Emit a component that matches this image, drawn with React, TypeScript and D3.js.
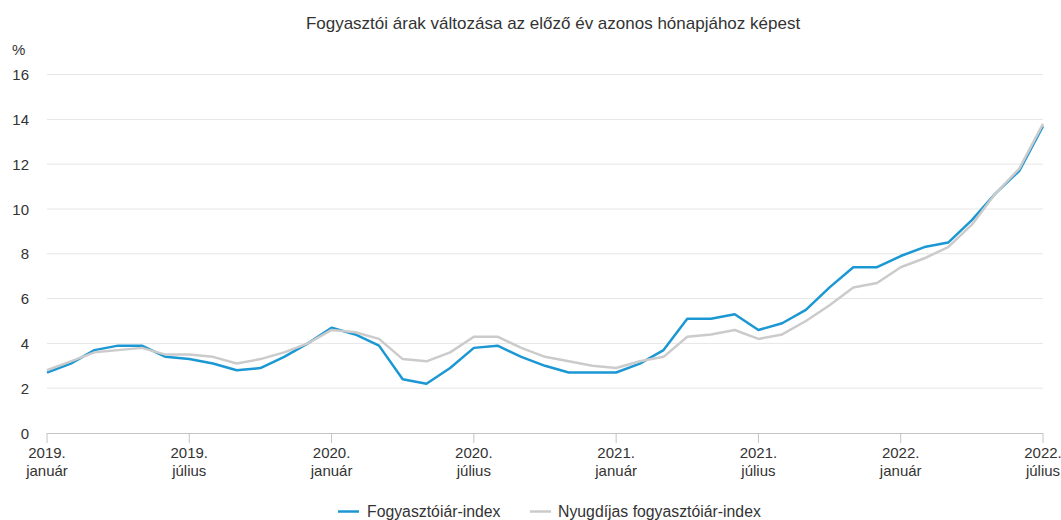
import React from 'react';
import * as d3 from 'd3';

const months = d3.range(43); // 2019 január .. 2022 július
const cpi = [
  2.7, 3.1, 3.7, 3.9, 3.9, 3.4, 3.3, 3.1, 2.8, 2.9, 3.4, 4.0,
  4.7, 4.4, 3.9, 2.4, 2.2, 2.9, 3.8, 3.9, 3.4, 3.0, 2.7, 2.7,
  2.7, 3.1, 3.7, 5.1, 5.1, 5.3, 4.6, 4.9, 5.5, 6.5, 7.4, 7.4,
  7.9, 8.3, 8.5, 9.5, 10.7, 11.7, 13.7,
];
const pensionerCpi = [
  2.8, 3.2, 3.6, 3.7, 3.8, 3.5, 3.5, 3.4, 3.1, 3.3, 3.6, 4.0,
  4.6, 4.5, 4.2, 3.3, 3.2, 3.6, 4.3, 4.3, 3.8, 3.4, 3.2, 3.0,
  2.9, 3.2, 3.4, 4.3, 4.4, 4.6, 4.2, 4.4, 5.0, 5.7, 6.5, 6.7,
  7.4, 7.8, 8.3, 9.3, 10.7, 11.8, 13.8,
];
const tickMonths = [0, 6, 12, 18, 24, 30, 36, 42];
const tickYears = ['2019.', '2019.', '2020.', '2020.', '2021.', '2021.', '2022.', '2022.'];
const tickNames = ['január', 'július', 'január', 'július', 'január', 'július', 'január', 'július'];
const yTicks = [0, 2, 4, 6, 8, 10, 12, 14, 16];

const title = 'Fogyasztói árak változása az előző év azonos hónapjához képest';
const seriesNames = ['Fogyasztóiár-index', 'Nyugdíjas fogyasztóiár-index'];
const colors = ['#1b97d3', '#cbcbcb'];

const W = 1061;
const H = 520;
const font = '"Liberation Sans", Arial, sans-serif';

export default function App() {
  const x = d3.scaleLinear().domain([0, 42]).range([47, 1043]);
  const y = d3.scaleLinear().domain([0, 16]).range([433, 74.6]);

  const line = d3
    .line<number>()
    .x((d, i) => x(months[i]))
    .y((d) => y(d));

  return (
    <svg
      width={W}
      height={H}
      style={{ position: 'absolute', left: 0, top: 0, fontFamily: font }}
    >
      <rect width={W} height={H} fill="#fff" />
      <text x={553} y={29} textAnchor="middle" fontSize={17} fill="#333">
        {title}
      </text>
      <text x={12} y={55} fontSize={15} fill="#333">%</text>

      {yTicks.map((t) => (
        <g key={t}>
          {t > 0 && (
            <line x1={47} x2={1043} y1={y(t)} y2={y(t)} stroke="#e6e6e6" strokeWidth={1} />
          )}
          <text x={29} y={y(t) + 5.5} textAnchor="end" fontSize={15} fill="#333">
            {t}
          </text>
        </g>
      ))}

      <line x1={47} x2={1043} y1={433.5} y2={433.5} stroke="#c4c4c4" strokeWidth={1} />
      {tickMonths.map((m, i) => (
        <g key={m}>
          <line x1={x(m)} x2={x(m)} y1={433} y2={443} stroke="#c4c4c4" strokeWidth={1} />
          <text x={x(m)} y={458} textAnchor="middle" fontSize={15} fill="#333">
            {tickYears[i]}
          </text>
          <text x={x(m)} y={476} textAnchor="middle" fontSize={15} fill="#333">
            {tickNames[i]}
          </text>
        </g>
      ))}

      <path d={line(cpi) || ''} fill="none" stroke={colors[0]} strokeWidth={2.5} strokeLinejoin="round" />
      <path d={line(pensionerCpi) || ''} fill="none" stroke={colors[1]} strokeWidth={2.5} strokeLinejoin="round" />

      <g>
        <line x1={338} x2={359} y1={511.5} y2={511.5} stroke={colors[0]} strokeWidth={2.5} />
        <text x={367} y={517} fontSize={15.8} fill="#333">{seriesNames[0]}</text>
        <line x1={530} x2={551} y1={511.5} y2={511.5} stroke={colors[1]} strokeWidth={2.5} />
        <text x={558} y={517} fontSize={15.8} fill="#333">{seriesNames[1]}</text>
      </g>
    </svg>
  );
}
